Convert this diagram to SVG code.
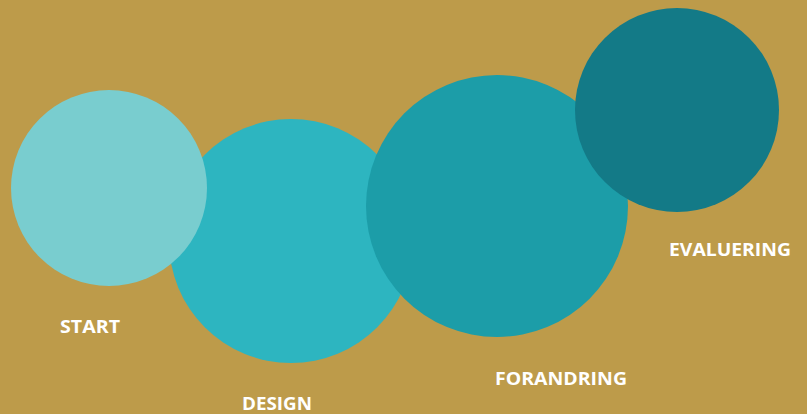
<svg xmlns="http://www.w3.org/2000/svg" width="807" height="414" viewBox="0 0 807 414">
<style>
.lbl{font-family:"Open Sans","DejaVu Sans",sans-serif;font-weight:700;font-size:18.5px;fill:#ffffff}
</style>
<rect x="0" y="0" width="807" height="414" fill="#BD9B4A"/>
<g id="design"><circle cx="291" cy="241" r="122" fill="#2DB5C0"/></g>
<g id="start"><circle cx="109" cy="188" r="98" fill="#79CDCF"/></g>
<g id="forandring"><circle cx="497" cy="206" r="131" fill="#1C9DA8"/></g>
<g id="evaluering"><circle cx="677" cy="110" r="102" fill="#137A87"/></g>
<g id="labels">
<text class="lbl" x="60" y="333" textLength="60" lengthAdjust="spacingAndGlyphs">START</text>
<text class="lbl" x="242" y="410" textLength="70" lengthAdjust="spacingAndGlyphs">DESIGN</text>
<text class="lbl" x="495" y="385" textLength="132" lengthAdjust="spacingAndGlyphs">FORANDRING</text>
<text class="lbl" x="669" y="256" textLength="122" lengthAdjust="spacingAndGlyphs">EVALUERING</text>
</g>
<g id="connectors"></g>
</svg>
